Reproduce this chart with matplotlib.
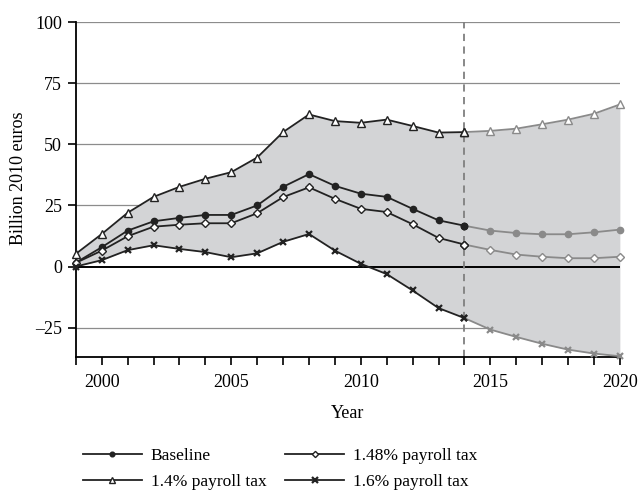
import matplotlib
matplotlib.use("Agg")
import matplotlib.pyplot as plt
import numpy as np

years = list(range(1999, 2021))
baseline = [1.6, 7.9, 14.7, 18.5, 19.9, 21.1, 21.1, 25.0, 32.6, 37.8, 33.0, 29.8, 28.5,
            23.6, 18.9, 16.7, 14.7, 13.7, 13.2, 13.2, 14.0, 15.1]
tax148 = [1.5, 6.5, 12.4, 16.3, 17.1, 17.7, 17.7, 21.8, 28.4, 32.4, 27.7, 23.6, 22.3,
          17.3, 11.7, 9.0, 6.8, 4.9, 4.0, 3.4, 3.4, 4.0]
tax14 = [5.2, 13.3, 22.0, 28.5, 32.6, 35.9, 38.6, 44.6, 55.0, 62.2, 59.5, 58.8, 60.1,
         57.5, 54.8, 55.0, 55.5, 56.4, 58.2, 60.1, 62.5, 66.3]
tax16 = [0.0, 2.6, 6.7, 8.7, 7.2, 5.9, 3.8, 5.4, 10.1, 13.3, 6.5, 1.1, -3.1,
         -9.8, -17.0, -21.1, -25.8, -28.8, -31.6, -34.0, -35.6, -36.7]
split_year = 2014
labels = ["Baseline", "1.4% payroll tax", "1.48% payroll tax", "1.6% payroll tax"]

plt.rcParams['font.family'] = ['Liberation Serif', 'DejaVu Serif']

fig = plt.figure(figsize=(6.43, 4.91), dpi=100)
ax = fig.add_axes([0.118, 0.273, 0.846, 0.682])

yrs = np.array(years)
ax.fill_between(yrs, tax16, tax14, color='#d3d4d6', zorder=1, linewidth=0)

for yv in [-25, 25, 50, 75, 100]:
    ax.axhline(yv, color='#8c8c8c', lw=0.9, zorder=0.5)
ax.axhline(0, color='black', lw=1.4, zorder=2)
ax.axvline(split_year, color='#7f7f7f', lw=1.3, ls=(0, (4, 3)), zorder=2)

dark = '#222222'
grey = '#8a8a8a'
styles = [
    (baseline, dict(marker='o', ms=4.5), 'fill'),
    (tax14, dict(marker='^', ms=5.5), 'white'),
    (tax148, dict(marker='D', ms=4.2), 'white'),
    (tax16, dict(marker='x', ms=5, mew=1.6), 'x'),
]


def marker_kw(mk, kind, col):
    kw = dict(mk)
    if kind == 'fill':
        kw.update(mfc=col, mec=col)
    elif kind == 'white':
        kw.update(mfc='white', mec=col, mew=1.0)
    else:
        kw.update(mec=col)
    return kw


i0 = years.index(split_year)
for (vals, mk, kind), lab in zip(styles, labels):
    v = np.array(vals)
    for seg, col, z in [(slice(0, i0 + 1), dark, 4), (slice(i0, None), grey, 3)]:
        ax.plot(yrs[seg], v[seg], color=col, lw=1.3, zorder=z, clip_on=False,
                **marker_kw(mk, kind, col))
    ax.plot(yrs[i0:i0 + 1], v[i0:i0 + 1], color=dark, lw=0, zorder=5, clip_on=False,
            **marker_kw(mk, kind, dark))

ax.set_xlim(1999, 2020)
ax.set_ylim(-37, 100)
ax.set_xticks(range(2000, 2021, 5))
ax.set_xticks(range(1999, 2021), minor=True)
ax.set_yticks([-25, 0, 25, 50, 75, 100])
ax.set_yticklabels(['\u201325', '0', '25', '50', '75', '100'])
ax.tick_params(axis='both', which='both', direction='out', labelsize=13, colors='black')
ax.tick_params(axis='x', which='both', length=6, width=1.2, pad=6)
ax.tick_params(axis='y', length=6, width=1.2, pad=4)
for s in ['top', 'right']:
    ax.spines[s].set_visible(False)
for s in ['left', 'bottom']:
    ax.spines[s].set_linewidth(1.3)
ax.set_facecolor('white')
ax.set_xlabel('Year', fontsize=13, labelpad=10)
ax.set_ylabel('Billion 2010 euros', fontsize=13)
ax.yaxis.set_label_coords(-0.09, 0.535)

leg_handles = []
for (vals, mk, kind) in styles:
    kw = marker_kw(mk, kind, dark)
    kw['ms'] = kw['ms'] * 0.75
    h, = ax.plot([], [], color=dark, lw=1.3, **kw)
    leg_handles.append(h)
fig.legend(leg_handles, labels, ncol=2, loc='lower left', bbox_to_anchor=(0.118, -0.012),
           frameon=False, fontsize=12.5, handlelength=3.4, columnspacing=1.1,
           handletextpad=0.5, labelspacing=0.55, borderaxespad=0.0)

fig.savefig('out.png', dpi=100)
